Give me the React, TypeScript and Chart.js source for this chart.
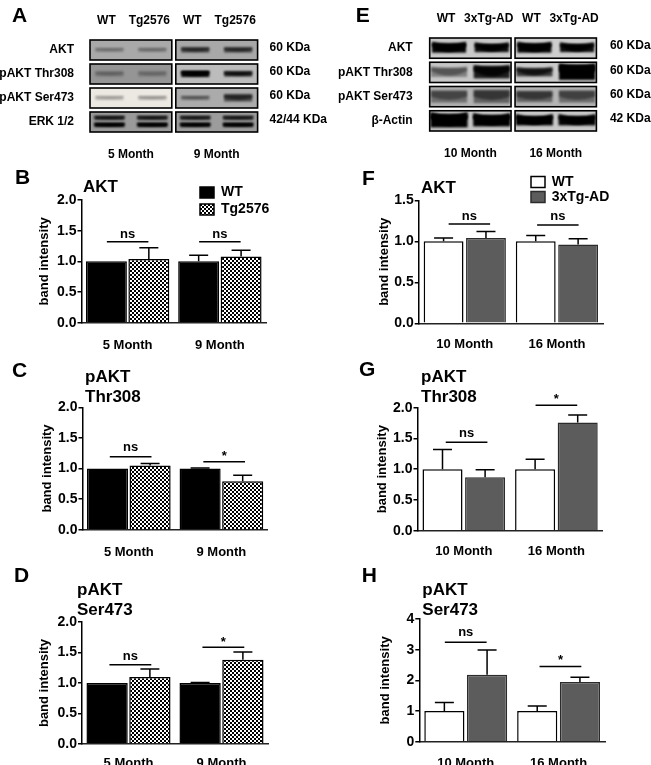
import React, { useEffect, useRef } from "react";
import { Chart, registerables } from "chart.js";

Chart.register(...registerables);

const FONT = "'Liberation Sans', Arial, sans-serif";

// ---------- bar data ----------
const monthsLeft = ["5 Month", "9 Month"];
const monthsRight = ["10 Month", "16 Month"];
const groupsLeft = ["WT", "Tg2576"];
const groupsRight = ["WT", "3xTg-AD"];

const bWT = [1, 1];
const bWTTop = [1, 1.1];
const bTg = [1.04, 1.08];
const bTgTop = [1.22, 1.18];
const bBracket = [1.32, 1.32];
const bMarks = ["ns", "ns"];

const cWT = [1, 1];
const cWTTop = [1, 1.01];
const cTg = [1.05, 0.79];
const cTgTop = [1.08, 0.89];
const cBracket = [1.19, 1.11];
const cMarks = ["ns", "*"];

const dWT = [1, 1];
const dWTTop = [1, 1.01];
const dTg = [1.1, 1.38];
const dTgTop = [1.23, 1.51];
const dBracket = [1.3, 1.585];
const dMarks = ["ns", "*"];

const fWT = [1, 1];
const fWTTop = [1.04, 1.07];
const fTg = [1.04, 0.96];
const fTgTop = [1.12, 1.03];
const fBracket = [1.21, 1.2];
const fMarks = ["ns", "ns"];

const gWT = [1, 1];
const gWTTop = [1.32, 1.16];
const gTg = [0.87, 1.76];
const gTgTop = [0.99, 1.88];
const gBracket = [1.44, 2.04];
const gMarks = ["ns", "*"];

const hWT = [1, 1];
const hWTTop = [1.28, 1.16];
const hTg = [2.18, 1.95];
const hTgTop = [2.99, 2.1];
const hBracket = [3.24, 2.45];
const hMarks = ["ns", "*"];

// ---------- blot data ----------
const blotARows = ["AKT", "pAKT Thr308", "pAKT Ser473", "ERK 1/2"];
const blotAWeights = ["60 KDa", "60 KDa", "60 KDa", "42/44 KDa"];
const blotALanes = ["WT", "Tg2576", "WT", "Tg2576"];
const blotADarkness = [
  [0.2, 0.22, 0.55, 0.55],
  [0.2, 0.18, 0.95, 0.75],
  [0.18, 0.2, 0.3, 0.55],
  [0.97, 0.97, 0.95, 0.95],
];
const blotABackground = [
  ["#a9a9a9", "#a8a8a8"],
  ["#959595", "#bcbcbc"],
  ["#ece8e2", "#ababab"],
  ["#9a9a9a", "#9c9c9c"],
];
const blotEBackground = [
  ["#c9c9c9", "#cdcdcd"],
  ["#c6c6c6", "#cacaca"],
  ["#b2b2b2", "#b4b4b4"],
  ["#c4c4c4", "#c8c8c8"],
];
const blotERows = ["AKT", "pAKT Thr308", "pAKT Ser473", "β-Actin"];
const blotEWeights = ["60 KDa", "60 KDa", "60 KDa", "42 KDa"];
const blotELanes = ["WT", "3xTg-AD", "WT", "3xTg-AD"];
const blotEDarkness = [
  [0.98, 0.92, 0.98, 0.92],
  [0.35, 0.85, 0.7, 1],
  [0.38, 0.45, 0.45, 0.4],
  [1, 1, 1, 0.98],
];

// ---------- layout tables ----------
type Box = { l: number; t: number; w: number; h: number };
type Plot = { l: number; t: number; r: number; b: number };

const blotALayout = {
  box: { l: 0, t: 0, w: 330, h: 160 },
  plot: { l: 88, t: 38, r: 259.6, b: 134 },
  rowPad: 6, weightPad: 2, weightOffset: -2, lanePad: 2, laneOffset: -3, monthPad: 5,
  letter: "A", letterX: 12, letterY: 16,
  bandWidth: [28, 28, 28, 30],
  bandHeight: [
    [4, 4, 5, 5],
    [5, 5, 6, 5],
    [4, 4, 4, 7],
    [4, 4, 4, 4],
  ],
  bandCurve: [0, 0, 0, 0],
  doubleRow: 3,
  blur: 1.2,
};
const blotELayout = {
  box: { l: 330, t: 0, w: 321, h: 160 },
  plot: { l: 427.7, t: 36, r: 598.4, b: 133 },
  rowPad: 7, weightPad: 3.5, weightOffset: -2, lanePad: 2, laneOffset: -3, monthPad: 5,
  letter: "E", letterX: 355.7, letterY: 16,
  bandWidth: [34, 36, 36, 37],
  bandHeight: [
    [9, 8, 9, 8],
    [9, 12, 8, 15],
    [12, 13, 11, 12],
    [13, 11, 9, 9],
  ],
  bandCurve: [4, 3, 0, 5],
  doubleRow: -1,
  blur: 1,
};

type PanelLayout = {
  box: Box; plot: Plot; letter: string; letterX: number; letterY: number;
  titleX: number; titleY: number[]; axisTitleX: number; tickPad: number; markGap: number[];
  bracketCentre: number[]; legendX?: number; legendY?: number[]; legendText?: number;
  barGroup: number; barFill: number; max: number; step: number; decimals: number; title: string[];
};

const panelLayouts: Record<string, PanelLayout> = {
  B: {
    box: { l: 0, t: 160, w: 330, h: 195 }, plot: { l: 81.5, t: 200, r: 266, b: 322.7 },
    letter: "B", letterX: 15, letterY: 178, title: ["AKT"], titleX: 83, titleY: [187],
    axisTitleX: 44, tickPad: 7, markGap: [7, 7], bracketCentre: [0, 0],
    legendX: 200, legendY: [192.5, 209.5], legendText: 221,
    barGroup: 0.92, barFill: 0.965, max: 2, step: 0.5, decimals: 1,
  },
  C: {
    box: { l: 0, t: 355, w: 330, h: 205 }, plot: { l: 82.5, t: 407.3, r: 267.7, b: 529.7 },
    letter: "C", letterX: 12, letterY: 371, title: ["pAKT", "Thr308"], titleX: 85, titleY: [377.7, 397.7],
    axisTitleX: 47.7, tickPad: 7, markGap: [9, 6], bracketCentre: [0.02, 0.03],
    barGroup: 0.92, barFill: 0.965, max: 2, step: 0.5, decimals: 1,
  },
  D: {
    box: { l: 0, t: 560, w: 330, h: 205 }, plot: { l: 82, t: 622, r: 268, b: 744 },
    letter: "D", letterX: 14, letterY: 576.7, title: ["pAKT", "Ser473"], titleX: 77, titleY: [590.7, 610.7],
    axisTitleX: 44, tickPad: 3.5, markGap: [8, 6], bracketCentre: [0.02, 0.02],
    barGroup: 0.92, barFill: 0.965, max: 2, step: 0.5, decimals: 1,
  },
  F: {
    box: { l: 330, t: 160, w: 321, h: 195 }, plot: { l: 418.7, t: 200.3, r: 603, b: 323.3 },
    letter: "F", letterX: 362, letterY: 179, title: ["AKT"], titleX: 421, titleY: [188],
    axisTitleX: 384, tickPad: 5.5, markGap: [8, 8], bracketCentre: [0.05, 0.01],
    legendX: 531, legendY: [182, 197], legendText: 551.7,
    barGroup: 0.92, barFill: 0.94, max: 1.5, step: 0.5, decimals: 1,
  },
  G: {
    box: { l: 330, t: 355, w: 321, h: 205 }, plot: { l: 417.5, t: 407.7, r: 602.7, b: 530.7 },
    letter: "G", letterX: 359, letterY: 370, title: ["pAKT", "Thr308"], titleX: 421, titleY: [377.7, 397.7],
    axisTitleX: 382.7, tickPad: 4.5, markGap: [9, 7], bracketCentre: [0.03, 0],
    barGroup: 0.92, barFill: 0.94, max: 2, step: 0.5, decimals: 1,
  },
  H: {
    box: { l: 330, t: 560, w: 321, h: 205 }, plot: { l: 419.3, t: 619, r: 605, b: 741.7 },
    letter: "H", letterX: 361.7, letterY: 576.7, title: ["pAKT", "Ser473"], titleX: 422.3, titleY: [590, 610],
    axisTitleX: 385.7, tickPad: 5.5, markGap: [10, 7], bracketCentre: [0, 0.02],
    barGroup: 0.92, barFill: 0.94, max: 4, step: 1, decimals: 0,
  },
};

const bold = (size: number) => ({ family: FONT, weight: "bold" as const, size });

function checkerPattern(): CanvasPattern {
  const c = document.createElement("canvas");
  c.width = 4;
  c.height = 4;
  const x = c.getContext("2d")!;
  x.fillStyle = "#ffffff";
  x.fillRect(0, 0, 4, 4);
  x.fillStyle = "#000000";
  x.fillRect(0, 0, 2, 2);
  x.fillRect(2, 2, 2, 2);
  return x.createPattern(c, "repeat")!;
}

function makeBarChart(
  canvas: HTMLCanvasElement,
  layout: PanelLayout,
  months: string[],
  groups: string[],
  first: number[],
  firstTop: number[],
  second: number[],
  secondTop: number[],
  brackets: number[],
  marks: string[],
  secondFill: string | CanvasPattern,
  firstFill: string,
  borderSecond: string,
) {
  const { box, plot } = layout;
  const scaleLeft = layout.axisTitleX - 7.8;

  const overlay = {
    id: "panelOverlay",
    afterDraw(chart: any) {
      const ctx: CanvasRenderingContext2D = chart.ctx;
      const xs = chart.scales.x;
      const ys = chart.scales.y;
      ctx.save();
      ctx.fillStyle = "#000";
      ctx.textBaseline = "middle";
      ctx.textAlign = "left";
      // panel letter
      ctx.font = `bold 21px ${FONT}`;
      ctx.fillText(layout.letter, layout.letterX - box.l, layout.letterY - box.t);
      // title
      ctx.font = `bold 17px ${FONT}`;
      layout.title.forEach((line, i) => ctx.fillText(line, layout.titleX - box.l, layout.titleY[i] - box.t));

      // error bars
      const tops = [firstTop, secondTop];
      const values = [first, second];
      ctx.strokeStyle = "#000";
      ctx.lineWidth = 1.5;
      tops.forEach((topList, d) => {
        const meta = chart.getDatasetMeta(d);
        topList.forEach((top, i) => {
          if (top <= values[d][i]) return;
          const x = meta.data[i].x;
          const yTop = ys.getPixelForValue(top);
          const yBase = ys.getPixelForValue(values[d][i]);
          ctx.beginPath();
          ctx.moveTo(x, yBase);
          ctx.lineTo(x, yTop);
          ctx.moveTo(x - 9.5, yTop);
          ctx.lineTo(x + 9.5, yTop);
          ctx.stroke();
        });
      });

      // significance brackets
      const catWidth = Math.abs(xs.getPixelForValue(1) - xs.getPixelForValue(0));
      brackets.forEach((value, i) => {
        const cx = xs.getPixelForValue(i) + layout.bracketCentre[i] * catWidth;
        const y = ys.getPixelForValue(value);
        ctx.beginPath();
        ctx.lineWidth = 1.5;
        ctx.moveTo(cx - 0.225 * catWidth, y);
        ctx.lineTo(cx + 0.225 * catWidth, y);
        ctx.stroke();
        ctx.textAlign = "center";
        ctx.font = `bold 13px ${FONT}`;
        ctx.fillText(marks[i], cx, y - layout.markGap[i] + (marks[i] === "*" ? 1 : 0));
      });

      // legend
      if (layout.legendX !== undefined && layout.legendY && layout.legendText !== undefined) {
        chart.data.datasets.forEach((ds: any, i: number) => {
          const y = layout.legendY![i] - box.t;
          const x = layout.legendX! - box.l;
          ctx.fillStyle = ds.backgroundColor;
          ctx.fillRect(x, y - 5.5, 14, 11);
          ctx.strokeStyle = ds.borderColor;
          ctx.lineWidth = 1.5;
          ctx.strokeRect(x, y - 5.5, 14, 11);
          ctx.fillStyle = "#000";
          ctx.textAlign = "left";
          ctx.font = `bold 14px ${FONT}`;
          ctx.fillText(ds.label, layout.legendText! - box.l, y);
        });
      }
      ctx.restore();
    },
  };

  return new Chart(canvas, {
    type: "bar",
    data: {
      labels: months,
      datasets: [
        {
          label: groups[0],
          data: first,
          backgroundColor: firstFill,
          borderColor: "#000",
          borderWidth: 1.5,
          categoryPercentage: layout.barGroup,
          barPercentage: layout.barFill,
        },
        {
          label: groups[1],
          data: second,
          backgroundColor: secondFill as any,
          borderColor: borderSecond,
          borderWidth: 1.5,
          categoryPercentage: layout.barGroup,
          barPercentage: layout.barFill,
        },
      ],
    },
    options: {
      animation: false,
      responsive: false,
      maintainAspectRatio: false,
      layout: {
        padding: {
          left: scaleLeft - box.l,
          top: plot.t - box.t,
          right: box.l + box.w - plot.r,
          bottom: 0,
        },
      },
      plugins: { legend: { display: false }, title: { display: false }, tooltip: { enabled: false } },
      scales: {
        x: {
          type: "category",
          offset: true,
          grid: { display: false },
          border: { display: true, color: "#222", width: 1.5 },
          ticks: { color: "#000", font: bold(13), padding: layout.tickPad, maxRotation: 0, autoSkip: false },
          afterFit: (s: any) => {
            s.height = box.t + box.h - plot.b;
          },
        },
        y: {
          type: "linear",
          min: 0,
          max: layout.max,
          border: { display: true, color: "#000", width: 1.5 },
          grid: { drawOnChartArea: false, drawTicks: true, tickLength: 4, tickColor: "#000", lineWidth: 1.5 },
          ticks: {
            stepSize: layout.step,
            color: "#000",
            font: bold(14),
            padding: 1,
            callback: (v: any) => Number(v).toFixed(layout.decimals),
          },
          title: { display: true, text: "band intensity", color: "#000", font: bold(13), padding: 0 },
          afterFit: (s: any) => {
            s.width = plot.l - scaleLeft;
          },
        },
      },
    } as any,
    plugins: [overlay],
  });
}

function makeBlotChart(
  canvas: HTMLCanvasElement,
  layout: typeof blotALayout,
  rows: string[],
  weights: string[],
  lanes: string[],
  months: string[],
  darkness: number[][],
  backgrounds: string[][],
) {
  const { box, plot } = layout;
  const blot = {
    id: "blot",
    afterDraw(chart: any) {
      const ctx: CanvasRenderingContext2D = chart.ctx;
      const xs = chart.scales.x;
      const ys = chart.scales.y;
      const laneW = xs.getPixelForValue(1) - xs.getPixelForValue(0);
      const rowH = ys.getPixelForValue(1) - ys.getPixelForValue(0);
      ctx.save();
      ctx.fillStyle = "#000";
      ctx.textBaseline = "middle";
      ctx.textAlign = "left";
      ctx.font = `bold 21px ${FONT}`;
      ctx.fillText(layout.letter, layout.letterX - box.l, layout.letterY - box.t);

      rows.forEach((_, r) => {
        const cy = ys.getPixelForValue(r);
        [0, 2].forEach((firstLane, pair) => {
          const x0 = xs.getPixelForValue(firstLane) - laneW / 2 + 2;
          const x1 = xs.getPixelForValue(firstLane + 1) + laneW / 2 - 2;
          const y0 = cy - rowH / 2 + 2;
          const y1 = cy + rowH / 2 - 2;
          ctx.save();
          ctx.beginPath();
          ctx.rect(x0, y0, x1 - x0, y1 - y0);
          ctx.clip();
          ctx.fillStyle = backgrounds[r][pair];
          ctx.fillRect(x0, y0, x1 - x0, y1 - y0);
          [firstLane, firstLane + 1].forEach((lane) => {
            const cx = xs.getPixelForValue(lane);
            const w = layout.bandWidth[r];
            const h = layout.bandHeight[r][lane];
            const c = layout.bandCurve[r];
            const alpha = darkness[r][lane];
            const drawBand = (yy: number, a: number) => {
              ctx.save();
              ctx.filter = `blur(${layout.blur}px)`;
              ctx.fillStyle = `rgba(0,0,0,${a})`;
              ctx.beginPath();
              ctx.moveTo(cx - w / 2, yy - h / 2 - c / 2);
              ctx.quadraticCurveTo(cx, yy - h / 2 + c / 2, cx + w / 2, yy - h / 2 - c / 2);
              ctx.lineTo(cx + w / 2, yy - c / 2);
              ctx.quadraticCurveTo(cx, yy + h / 2 + c, cx - w / 2, yy - c / 2);
              ctx.closePath();
              ctx.fill();
              ctx.fillRect(cx - w / 2, yy - h / 2, w, h);
              ctx.restore();
            };
            if (r === layout.doubleRow) {
              drawBand(cy - 4, alpha * 0.7);
              drawBand(cy + 3, alpha);
            } else {
              drawBand(cy, alpha);
            }
          });
          ctx.restore();
          ctx.strokeStyle = "#000";
          ctx.lineWidth = 1.6;
          ctx.strokeRect(x0, y0, x1 - x0, y1 - y0);
        });
      });
      ctx.restore();
    },
  };
  const hiddenGrid = { display: false };
  const noBorder = { display: false };
  return new Chart(canvas, {
    type: "bar",
    data: { labels: lanes, datasets: [] },
    options: {
      animation: false,
      responsive: false,
      maintainAspectRatio: false,
      layout: { padding: 0 },
      plugins: { legend: { display: false }, title: { display: false }, tooltip: { enabled: false } },
      scales: {
        x: {
          type: "category",
          position: "top",
          labels: lanes,
          offset: true,
          grid: hiddenGrid,
          border: noBorder,
          ticks: { color: "#000", font: bold(12), padding: layout.lanePad, labelOffset: layout.laneOffset, maxRotation: 0, autoSkip: false },
          afterFit: (s: any) => {
            s.height = plot.t - box.t;
          },
        },
        x2: {
          type: "category",
          position: "bottom",
          labels: months,
          offset: true,
          grid: hiddenGrid,
          border: noBorder,
          ticks: { color: "#000", font: bold(12), padding: layout.monthPad, maxRotation: 0, autoSkip: false },
          afterFit: (s: any) => {
            s.height = box.t + box.h - plot.b;
          },
        },
        y: {
          type: "category",
          position: "left",
          labels: rows,
          offset: true,
          grid: hiddenGrid,
          border: noBorder,
          ticks: { color: "#000", font: bold(12), padding: layout.rowPad, autoSkip: false },
          afterFit: (s: any) => {
            s.width = plot.l - box.l;
          },
        },
        y2: {
          type: "category",
          position: "right",
          labels: weights,
          offset: true,
          grid: hiddenGrid,
          border: noBorder,
          ticks: { color: "#000", font: bold(12), padding: layout.weightPad, labelOffset: layout.weightOffset, autoSkip: false },
          afterFit: (s: any) => {
            s.width = box.l + box.w - plot.r;
          },
        },
      },
    } as any,
    plugins: [blot],
  });
}

function Panel({ box, build }: { box: Box; build: (c: HTMLCanvasElement) => Chart }) {
  const ref = useRef<HTMLCanvasElement | null>(null);
  useEffect(() => {
    const chart = build(ref.current!);
    return () => chart.destroy();
  }, []);
  return (
    <canvas
      ref={ref}
      width={box.w}
      height={box.h}
      style={{ position: "absolute", left: box.l, top: box.t, width: box.w, height: box.h, display: "block" }}
    />
  );
}

const GREY = "#5c5c5c";
const GREY_EDGE = "#2b2b2b";

export default function App() {
  const p = panelLayouts;
  return (
    <div style={{ position: "absolute", left: 0, top: 0, width: 651, height: 765, background: "#fff", overflow: "hidden" }}>
      <Panel box={blotALayout.box} build={(c) => makeBlotChart(c, blotALayout, blotARows, blotAWeights, blotALanes, monthsLeft, blotADarkness, blotABackground)} />
      <Panel box={blotELayout.box} build={(c) => makeBlotChart(c, blotELayout as any, blotERows, blotEWeights, blotELanes, monthsRight, blotEDarkness, blotEBackground)} />
      <Panel box={p.B.box} build={(c) => makeBarChart(c, p.B, monthsLeft, groupsLeft, bWT, bWTTop, bTg, bTgTop, bBracket, bMarks, checkerPattern(), "#000", "#000")} />
      <Panel box={p.C.box} build={(c) => makeBarChart(c, p.C, monthsLeft, groupsLeft, cWT, cWTTop, cTg, cTgTop, cBracket, cMarks, checkerPattern(), "#000", "#000")} />
      <Panel box={p.D.box} build={(c) => makeBarChart(c, p.D, monthsLeft, groupsLeft, dWT, dWTTop, dTg, dTgTop, dBracket, dMarks, checkerPattern(), "#000", "#000")} />
      <Panel box={p.F.box} build={(c) => makeBarChart(c, p.F, monthsRight, groupsRight, fWT, fWTTop, fTg, fTgTop, fBracket, fMarks, GREY, "#fff", GREY_EDGE)} />
      <Panel box={p.G.box} build={(c) => makeBarChart(c, p.G, monthsRight, groupsRight, gWT, gWTTop, gTg, gTgTop, gBracket, gMarks, GREY, "#fff", GREY_EDGE)} />
      <Panel box={p.H.box} build={(c) => makeBarChart(c, p.H, monthsRight, groupsRight, hWT, hWTTop, hTg, hTgTop, hBracket, hMarks, GREY, "#fff", GREY_EDGE)} />
    </div>
  );
}
